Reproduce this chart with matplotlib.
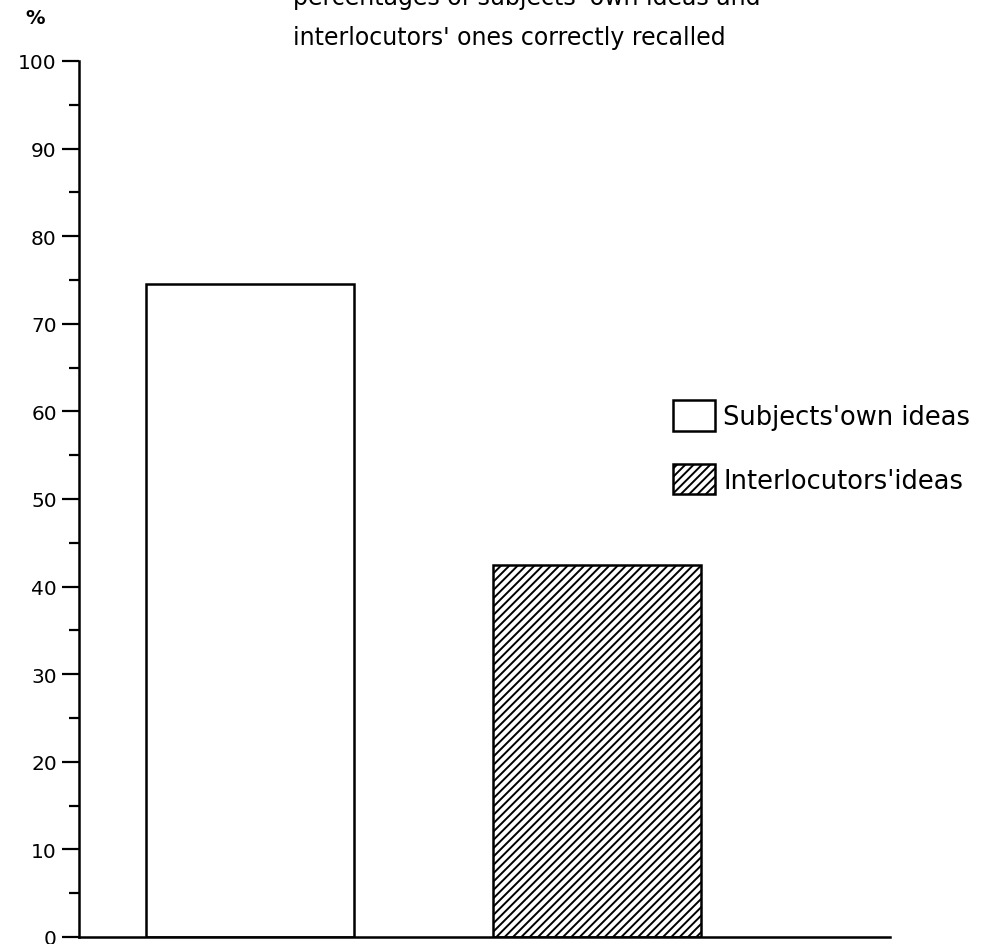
import matplotlib
matplotlib.use("Agg")
import matplotlib.pyplot as plt

# Data
categories = ["Subjects'own ideas", "Interlocutors'ideas"]
values = [74.5, 42.5]
hatches = ["", "////"]
yticks_major = [0, 10, 20, 30, 40, 50, 60, 70, 80, 90, 100]
yticks_minor = [5, 15, 25, 35, 45, 55, 65, 75, 85, 95]
title_lines = ["percentages of subjects' own ideas and",
               "interlocutors' ones correctly recalled"]

plt.rcParams['font.family'] = ['DejaVu Sans']
plt.rcParams['hatch.linewidth'] = 1.4

W, H = 987, 945
fig = plt.figure(figsize=(W / 100, H / 100), dpi=100)
ax = fig.add_axes([79 / W, 1 - 938 / H, (890 - 79) / W, (938 - 62) / H])

for i, (v, h, lab) in enumerate(zip(values, hatches, categories)):
    ax.bar(i, v, width=0.6, facecolor='white', edgecolor='black',
           linewidth=1.8, hatch=h, label=lab)

ax.set_xlim(-0.493, 1.844)
ax.set_ylim(0, 100)
ax.set_yticks(yticks_major)
ax.set_yticks(yticks_minor, minor=True)
ax.set_xticks([])
ax.tick_params(axis='y', which='major', direction='out', length=12,
               width=1.6, labelsize=14.5, pad=4)
ax.tick_params(axis='y', which='minor', direction='out', length=7, width=1.6)
for side in ['top', 'right']:
    ax.spines[side].set_visible(False)
for side in ['left', 'bottom']:
    ax.spines[side].set_linewidth(1.8)

leg = ax.legend(loc='upper left', bbox_to_anchor=(673 / W, 1 - 401 / H),
                bbox_transform=fig.transFigure, frameon=False, fontsize=18.5,
                handlelength=1.65, handleheight=1.45, handletextpad=0.3,
                labelspacing=1.3, borderpad=0, borderaxespad=0)
for patch in leg.get_patches():
    patch.set_linewidth(1.8)

fig.text(293 / W, 1 - 45 / H, title_lines[1], fontsize=17,
         ha='left', va='baseline')
fig.text(293 / W, 1 - 5 / H, title_lines[0], fontsize=17,
         ha='left', va='baseline')
fig.text(35 / W, 1 - 19 / H, "%", fontsize=14, fontweight='bold',
         ha='center', va='center')

fig.savefig("out.png", dpi=100)
